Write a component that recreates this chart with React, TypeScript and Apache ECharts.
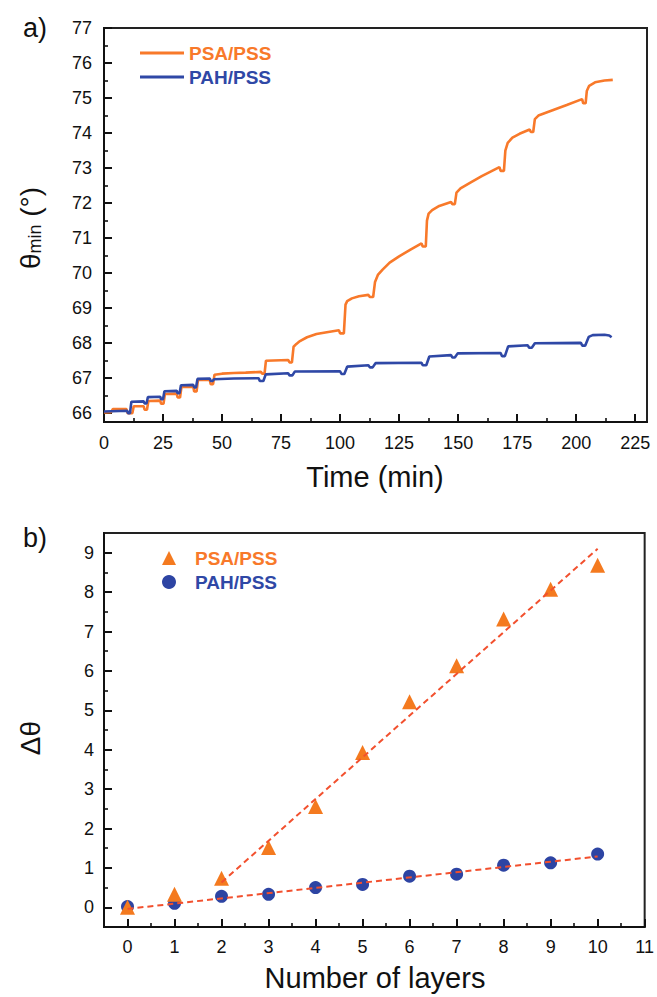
import React, { useEffect, useRef } from "react";
import * as echarts from "echarts";

// ---- Panel a) : contact angle vs time ----
const psaCurve: [number, number][] = [
  [0, 66.02], [3, 66.03], [3.8, 66.12], [9.5, 66.12], [10, 66.0], [12, 66.0], [12.6, 66.2], [16.8, 66.2],
  [17.2, 66.1], [18.2, 66.1], [18.8, 66.35], [23.8, 66.36], [24.2, 66.27], [25.2, 66.27], [25.8, 66.55],
  [30.8, 66.56], [31.2, 66.45], [32.2, 66.45], [32.8, 66.75], [37.8, 66.76], [38.2, 66.62], [39.2, 66.62],
  [39.8, 66.95], [44.8, 66.96], [45.2, 66.83], [46.2, 66.83], [46.8, 67.1], [50, 67.13], [55, 67.15],
  [60, 67.16], [66.5, 67.18], [67, 67.13], [68, 67.13], [68.6, 67.5], [78, 67.52], [78.6, 67.45],
  [79.6, 67.45], [80.3, 67.9], [81.5, 67.98], [83, 68.06], [86, 68.17], [90, 68.26], [95, 68.32],
  [99.5, 68.37], [100, 68.28], [101.6, 68.28], [102.3, 69.1], [103, 69.2], [105, 69.28], [108, 69.34],
  [112, 69.38], [112.6, 69.32], [114, 69.32], [114.8, 69.75], [116, 69.95], [118, 70.1], [121, 70.3],
  [125, 70.48], [130, 70.68], [134.5, 70.85], [135, 70.76], [136.3, 70.76], [136.8, 71.5], [137.5, 71.7],
  [139, 71.8], [142, 71.92], [147, 72.03], [147.6, 71.97], [148.6, 71.97], [149.3, 72.3], [151, 72.42],
  [155, 72.58], [160, 72.77], [167.5, 73.03], [168, 72.92], [169.4, 72.92], [170, 73.5], [171, 73.72],
  [173, 73.87], [176, 73.98], [180.3, 74.1], [180.8, 74.03], [181.8, 74.03], [182.5, 74.4], [184, 74.5],
  [190, 74.65], [196, 74.8], [202.5, 74.97], [203, 74.85], [204, 74.85], [204.5, 75.2], [205.5, 75.35],
  [208, 75.45], [212, 75.5], [215.5, 75.52],
];

const pahCurve: [number, number][] = [
  [0, 66.05], [9.8, 66.07], [10.2, 66.0], [11, 66.0], [11.6, 66.33], [16.8, 66.34], [17.2, 66.28],
  [18, 66.28], [18.6, 66.46], [23.8, 66.47], [24.2, 66.4], [25, 66.4], [25.6, 66.63], [30.8, 66.64],
  [31.2, 66.57], [32, 66.57], [32.6, 66.8], [37.8, 66.81], [38.2, 66.74], [39, 66.74], [39.6, 66.98],
  [44.8, 66.99], [45.2, 66.92], [46, 66.92], [46.6, 66.97], [55, 66.99], [65.5, 67.0], [66, 66.92],
  [67.5, 66.92], [68.5, 67.11], [78, 67.14], [78.6, 67.08], [79.8, 67.08], [80.8, 67.19], [100, 67.2],
  [100.6, 67.12], [101.8, 67.12], [103, 67.33], [112, 67.37], [112.6, 67.31], [113.8, 67.31], [115, 67.43],
  [134.5, 67.44], [135, 67.37], [136.5, 67.37], [137.8, 67.62], [147, 67.66], [147.6, 67.59], [148.6, 67.59],
  [149.8, 67.71], [168, 67.72], [168.6, 67.63], [169.8, 67.63], [171.2, 67.91], [179.5, 67.94],
  [180.1, 67.87], [181.2, 67.87], [182.5, 68.0], [202, 68.01], [202.6, 67.93], [203.8, 67.93],
  [205.3, 68.18], [207, 68.23], [212, 68.24], [214, 68.22], [215, 68.17],
];

const timeTicks = [0, 25, 50, 75, 100, 125, 150, 175, 200, 225];
const timeMinorTicks = [12.5, 37.5, 62.5, 87.5, 112.5, 137.5, 162.5, 187.5, 212.5];
const thetaTicks = [66, 67, 68, 69, 70, 71, 72, 73, 74, 75, 76, 77];
const thetaMinorTicks = [66.5, 67.5, 68.5, 69.5, 70.5, 71.5, 72.5, 73.5, 74.5, 75.5, 76.5];

// ---- Panel b) : delta theta vs number of layers ----
const layers = [0, 1, 2, 3, 4, 5, 6, 7, 8, 9, 10];
const psaDelta = [0.0, 0.33, 0.74, 1.52, 2.56, 3.93, 5.22, 6.13, 7.32, 8.07, 8.68];
const pahDelta = [0.02, 0.1, 0.28, 0.33, 0.5, 0.58, 0.79, 0.84, 1.07, 1.13, 1.35];
const psaFit: [number, number][] = [[2, 0.63], [10, 9.1]];
const pahFit: [number, number][] = [[0, -0.04], [10, 1.29]];

const layerTicks = [0, 1, 2, 3, 4, 5, 6, 7, 8, 9, 10, 11];
const layerMinorTicks = [0.5, 1.5, 2.5, 3.5, 4.5, 5.5, 6.5, 7.5, 8.5, 9.5, 10.5];
const deltaTicks = [0, 1, 2, 3, 4, 5, 6, 7, 8, 9];
const deltaMinorTicks = [0.5, 1.5, 2.5, 3.5, 4.5, 5.5, 6.5, 7.5, 8.5];

const ORANGE = "#f8792a";
const BLUE = "#2f48a6";
const MARK_ORANGE = "#f47a1f";
const MARK_BLUE = "#2d44a3";
const FIT = "#f2502e";
const FONT = "'Liberation Sans', Arial, Helvetica, sans-serif";

function majorAxis(
  kind: "x" | "y",
  grid: number,
  min: number,
  max: number,
  ticks: number[],
  margin: number
) {
  return {
    type: "value",
    gridIndex: grid,
    position: kind === "x" ? "bottom" : "left",
    min,
    max,
    axisLine: { show: true, onZero: false, lineStyle: { color: "#111", width: 2 } },
    axisTick: {
      show: true,
      inside: true,
      length: 8,
      customValues: ticks,
      lineStyle: { color: "#111", width: 2 },
    },
    axisLabel: {
      show: true,
      customValues: ticks,
      margin,
      fontSize: 18,
      color: "#111",
      fontFamily: FONT,
    },
    splitLine: { show: false },
  };
}

function minorAxis(kind: "x" | "y", grid: number, min: number, max: number, ticks: number[]) {
  return {
    type: "value",
    gridIndex: grid,
    position: kind === "x" ? "bottom" : "left",
    min,
    max,
    axisLine: { show: false, onZero: false },
    axisTick: {
      show: true,
      inside: true,
      length: 4,
      customValues: ticks,
      lineStyle: { color: "#111", width: 1.6 },
    },
    axisLabel: { show: false },
    splitLine: { show: false },
  };
}

export default function App() {
  const ref = useRef<HTMLDivElement>(null);

  useEffect(() => {
    if (!ref.current) return;
    const chart = echarts.init(ref.current, undefined, { renderer: "svg" });
    const option: any = {
      animation: false,
      backgroundColor: "#ffffff",
      textStyle: { fontFamily: FONT },
      grid: [
        { left: 104, top: 28, width: 543, height: 394, show: true, borderColor: "#222", borderWidth: 2, backgroundColor: "transparent" },
        { left: 104, top: 533, width: 543, height: 394, show: true, borderColor: "#222", borderWidth: 2, backgroundColor: "transparent" },
      ],
      xAxis: [
        majorAxis("x", 0, 0, 230, timeTicks, 12),
        minorAxis("x", 0, 0, 230, timeMinorTicks),
        majorAxis("x", 1, -0.5, 11, layerTicks, 11),
        minorAxis("x", 1, -0.5, 11, layerMinorTicks),
      ],
      yAxis: [
        majorAxis("y", 0, 65.75, 77, thetaTicks, 12),
        minorAxis("y", 0, 65.75, 77, thetaMinorTicks),
        majorAxis("y", 1, -0.5, 9.5, deltaTicks, 10),
        minorAxis("y", 1, -0.5, 9.5, deltaMinorTicks),
      ],
      legend: [
        {
          orient: "vertical",
          left: 140,
          top: 43,
          padding: 0,
          itemGap: 4,
          itemWidth: 44,
          itemHeight: 3,
          symbolKeepAspect: false,
          selectedMode: false,
          textStyle: { fontSize: 19, fontWeight: "bold", fontFamily: FONT, lineHeight: 20 },
          data: [
            { name: "PSA/PSS", icon: "rect", itemStyle: { color: ORANGE }, textStyle: { color: ORANGE } },
            { name: "PAH/PSS", icon: "rect", itemStyle: { color: BLUE }, textStyle: { color: BLUE } },
          ],
        },
        {
          orient: "vertical",
          left: 162,
          top: 548,
          padding: 0,
          itemGap: 4,
          itemWidth: 14,
          itemHeight: 14,
          selectedMode: false,
          textStyle: { fontSize: 19, fontWeight: "bold", fontFamily: FONT, lineHeight: 20, padding: [0, 0, 0, 14] },
          data: [
            { name: "PSA/PSS", icon: "triangle", itemStyle: { color: MARK_ORANGE }, textStyle: { color: ORANGE } },
            { name: "PAH/PSS", icon: "circle", itemStyle: { color: MARK_BLUE }, textStyle: { color: BLUE } },
          ],
        },
      ],
      series: [
        {
          name: "PSA/PSS",
          type: "line",
          xAxisIndex: 0,
          yAxisIndex: 0,
          data: psaCurve,
          symbol: "none",
          lineStyle: { color: ORANGE, width: 2.6 },
          itemStyle: { color: ORANGE },
        },
        {
          name: "PAH/PSS",
          type: "line",
          xAxisIndex: 0,
          yAxisIndex: 0,
          data: pahCurve,
          symbol: "none",
          lineStyle: { color: BLUE, width: 2.6 },
          itemStyle: { color: BLUE },
        },
        {
          name: "PAH/PSS",
          type: "scatter",
          xAxisIndex: 2,
          yAxisIndex: 2,
          data: layers.map((l, i) => [l, pahDelta[i]]),
          symbol: "circle",
          symbolSize: 13,
          itemStyle: { color: MARK_BLUE, opacity: 1 },
        },
        {
          name: "PSA/PSS",
          type: "scatter",
          xAxisIndex: 2,
          yAxisIndex: 2,
          data: layers.map((l, i) => [l, psaDelta[i]]),
          symbol: "triangle",
          symbolSize: 15,
          itemStyle: { color: MARK_ORANGE, opacity: 1 },
        },
        {
          name: "PSA fit",
          type: "line",
          xAxisIndex: 2,
          yAxisIndex: 2,
          data: psaFit,
          symbol: "none",
          lineStyle: { color: FIT, width: 2, type: [6, 4] },
        },
        {
          name: "PAH fit",
          type: "line",
          xAxisIndex: 2,
          yAxisIndex: 2,
          data: pahFit,
          symbol: "none",
          lineStyle: { color: FIT, width: 2, type: [6, 4] },
        },
      ],
      graphic: [
        {
          type: "text",
          left: 23,
          top: 14,
          style: { text: "a)", fontSize: 27, fill: "#111", fontFamily: FONT },
        },
        {
          type: "text",
          left: 23,
          top: 524,
          style: { text: "b)", fontSize: 27, fill: "#111", fontFamily: FONT },
        },
        {
          type: "text",
          x: 375,
          y: 477,
          style: { text: "Time (min)", fontSize: 29, fill: "#111", fontFamily: FONT, align: "center", verticalAlign: "middle" },
        },
        {
          type: "text",
          x: 375,
          y: 978,
          style: { text: "Number of layers", fontSize: 29, fill: "#111", fontFamily: FONT, align: "center", verticalAlign: "middle" },
        },
        {
          type: "text",
          x: 30,
          y: 228,
          rotation: Math.PI / 2,
          style: {
            text: "{a|θ}{s|min}{a| (°)}",
            align: "center",
            verticalAlign: "middle",
            fill: "#111",
            fontFamily: FONT,
            rich: {
              a: { fontSize: 28, fontFamily: FONT, fill: "#111" },
              s: { fontSize: 18, fontFamily: FONT, fill: "#111", verticalAlign: "bottom", padding: [10, 0, 0, 0] },
            },
          },
        },
        {
          type: "text",
          x: 30,
          y: 738,
          rotation: Math.PI / 2,
          style: { text: "Δθ", fontSize: 28, fill: "#111", fontFamily: FONT, align: "center", verticalAlign: "middle" },
        },
      ],
    };
    chart.setOption(option);
    return () => chart.dispose();
  }, []);

  return (
    <div
      ref={ref}
      style={{ position: "absolute", left: 0, top: 0, width: 657, height: 997, background: "#fff" }}
    />
  );
}
